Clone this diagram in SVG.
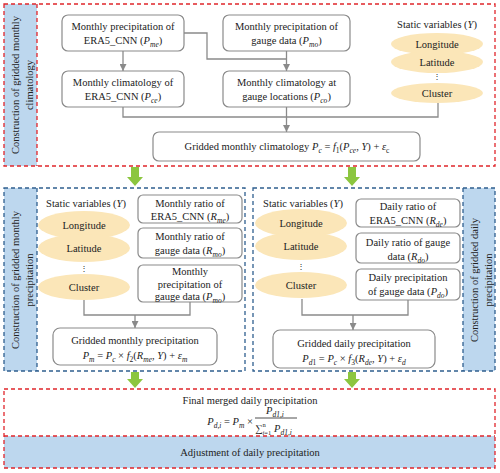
<svg xmlns="http://www.w3.org/2000/svg" width="500" height="473" viewBox="0 0 500 473">
<defs>
<style>
text{font-family:"Liberation Serif","Times New Roman",serif;font-size:10.5px;fill:#222;}
.c{text-anchor:middle;}
.i{font-style:italic;}
.s{font-size:7.5px;}
.box{fill:#fff;stroke:#8a8a8a;stroke-width:1.2;}
.ell{fill:#fbe6b8;}
.bar{fill:#bdd7ee;}
.red{fill:none;stroke:#e0262b;stroke-width:1.3;stroke-dasharray:4 3;}
.blue{fill:none;stroke:#2f5f8f;stroke-width:1.3;stroke-dasharray:4 3;}
.ln{fill:none;stroke:#8a8a8a;stroke-width:1.3;}
.ga{fill:#8cc63f;}
</style>
<marker id="ah" viewBox="0 0 10 10" refX="10" refY="5" markerWidth="7" markerHeight="7" markerUnits="userSpaceOnUse" orient="auto">
<path d="M0,0 L10,5 L0,10 z" fill="#8a8a8a"/>
</marker>
</defs>

<!-- Section 1 frame -->
<g id="sec1">
<rect class="bar" x="4" y="4" width="33" height="162"/>
<rect class="red" x="4" y="4" width="491" height="162"/>
<line class="red" x1="37" y1="4" x2="37" y2="166"/>
<text transform="translate(19,85) rotate(-90)" class="c">Construction of gridded monthly</text>
<text transform="translate(33,85) rotate(-90)" class="c">climatology</text>
</g>

<!-- Section 2 left frame -->
<g id="sec2">
<rect class="bar" x="4" y="188" width="33" height="183"/>
<rect class="blue" x="4" y="188" width="241" height="183"/>
<line class="blue" x1="37" y1="188" x2="37" y2="371"/>
<text transform="translate(19,280) rotate(-90)" class="c">Construction of gridded monthly</text>
<text transform="translate(33,280) rotate(-90)" class="c">precipitation</text>
</g>

<!-- Section 3 right frame -->
<g id="sec3">
<rect class="bar" x="463" y="188" width="32" height="183"/>
<rect class="blue" x="253" y="188" width="242" height="183"/>
<line class="blue" x1="463" y1="188" x2="463" y2="371"/>
<text transform="translate(478,280) rotate(-90)" class="c">Construction of gridded daily</text>
<text transform="translate(492,280) rotate(-90)" class="c">precipitation</text>
</g>

<!-- Section 4 bottom frame -->
<g id="sec4">
<rect class="bar" x="4" y="436" width="491" height="32"/>
<rect class="red" x="4" y="389" width="491" height="79"/>
<line class="red" x1="4" y1="436" x2="495" y2="436"/>
<text class="c" x="250" y="456">Adjustment of daily precipitation</text>
</g>

<!-- Connectors -->
<g id="connectors">
<path class="ln" d="M123,51 V71" marker-end="url(#ah)"/>
<path class="ln" d="M184,33 H207 V59 H286.5"/>
<path class="ln" d="M286.5,51 V71" marker-end="url(#ah)"/>
<path class="ln" d="M123,107 V117 H438 V103"/>
<path class="ln" d="M286.5,107 V132" marker-end="url(#ah)"/>
<path class="ln" d="M84,300 V315 H190 V302"/>
<path class="ln" d="M135,315 V328" marker-end="url(#ah)"/>
<path class="ln" d="M302,299 V315 H408 V300"/>
<path class="ln" d="M353,315 V330" marker-end="url(#ah)"/>
<polygon class="ga" points="131,167 139,167 139,177 143,177 135,186 127,177 131,177"/>
<polygon class="ga" points="348,167 356,167 356,177 360,177 352,186 344,177 348,177"/>
<polygon class="ga" points="131,372 139,372 139,379 143,379 135,388 127,379 131,379"/>
<polygon class="ga" points="348,372 356,372 356,379 360,379 352,388 344,379 348,379"/>
</g>

<!-- Section 1 nodes -->
<g id="n_pme">
<rect class="box" x="62" y="15" width="122" height="36" rx="6"/>
<text class="c" x="123" y="30">Monthly precipitation of</text>
<text class="c" x="123" y="44">ERA5_CNN (<tspan class="i">P</tspan><tspan class="i s" baseline-shift="-2.5">me</tspan>)</text>
</g>
<g id="n_pmo">
<rect class="box" x="223" y="15" width="127" height="36" rx="6"/>
<text class="c" x="286.5" y="30">Monthly precipitation of</text>
<text class="c" x="286.5" y="44">gauge data (<tspan class="i">P</tspan><tspan class="i s" baseline-shift="-2.5">mo</tspan>)</text>
</g>
<g id="n_pce">
<rect class="box" x="62" y="71" width="122" height="36" rx="6"/>
<text class="c" x="123" y="86">Monthly climatology of</text>
<text class="c" x="123" y="100">ERA5_CNN (<tspan class="i">P</tspan><tspan class="i s" baseline-shift="-2.5">ce</tspan>)</text>
</g>
<g id="n_pco">
<rect class="box" x="223" y="71" width="127" height="36" rx="6"/>
<text class="c" x="286.5" y="86">Monthly climatology at</text>
<text class="c" x="286.5" y="100">gauge locations (<tspan class="i">P</tspan><tspan class="i s" baseline-shift="-2.5">co</tspan>)</text>
</g>
<g id="n_static1">
<text class="c" x="437" y="28">Static variables (<tspan class="i">Y</tspan>)</text>
<ellipse class="ell" cx="437" cy="44" rx="46" ry="11"/>
<ellipse class="ell" cx="437" cy="62" rx="46" ry="11"/>
<ellipse class="ell" cx="437" cy="93" rx="46" ry="10"/>
<text class="c" x="437" y="48">Longitude</text>
<text class="c" x="437" y="66">Latitude</text>
<text class="c" x="437" y="79" style="font-size:8px">⋮</text>
<text class="c" x="437" y="97">Cluster</text>
</g>
<g id="n_pc">
<rect class="box" x="153" y="132" width="267" height="29" rx="6"/>
<text class="c" x="287" y="150">Gridded monthly climatology <tspan class="i">P</tspan><tspan class="i s" baseline-shift="-2.5">c</tspan> = <tspan class="i">f</tspan><tspan class="s" baseline-shift="-2.5">1</tspan>(<tspan class="i">P</tspan><tspan class="i s" baseline-shift="-2.5">ce</tspan>, <tspan class="i">Y</tspan>) + <tspan class="i">ε</tspan><tspan class="s" baseline-shift="-2.5">c</tspan></text>
</g>

<!-- Section 2 nodes -->
<g id="n_static2">
<text class="c" x="86" y="207">Static variables (<tspan class="i">Y</tspan>)</text>
<ellipse class="ell" cx="84" cy="225" rx="46" ry="14"/>
<ellipse class="ell" cx="84" cy="248" rx="46" ry="14"/>
<ellipse class="ell" cx="84" cy="287" rx="46" ry="13"/>
<text class="c" x="84" y="229">Longitude</text>
<text class="c" x="84" y="252">Latitude</text>
<text class="c" x="84" y="271" style="font-size:8px">⋮</text>
<text class="c" x="84" y="291">Cluster</text>
</g>
<g id="n_rme">
<rect class="box" x="138" y="195" width="104" height="28" rx="5"/>
<text class="c" x="190" y="207">Monthly ratio of</text>
<text class="c" x="190" y="220">ERA5_CNN (<tspan class="i">R</tspan><tspan class="i s" baseline-shift="-2.5">me</tspan>)</text>
</g>
<g id="n_rmo">
<rect class="box" x="138" y="228" width="104" height="30" rx="5"/>
<text class="c" x="190" y="240">Monthly ratio of</text>
<text class="c" x="190" y="254">gauge data (<tspan class="i">R</tspan><tspan class="i s" baseline-shift="-2.5">mo</tspan>)</text>
</g>
<g id="n_pmo2">
<rect class="box" x="138" y="265" width="104" height="37" rx="5"/>
<text class="c" x="190" y="275">Monthly</text>
<text class="c" x="190" y="288">precipitation of</text>
<text class="c" x="190" y="300">gauge data (<tspan class="i">P</tspan><tspan class="i s" baseline-shift="-2.5">mo</tspan>)</text>
</g>
<g id="n_pm">
<rect class="box" x="53" y="328" width="164" height="37" rx="7"/>
<text class="c" x="135" y="344">Gridded monthly precipitation</text>
<text class="c" x="135" y="359"><tspan class="i">P</tspan><tspan class="i s" baseline-shift="-2.5">m</tspan> = <tspan class="i">P</tspan><tspan class="i s" baseline-shift="-2.5">c</tspan> × <tspan class="i">f</tspan><tspan class="s" baseline-shift="-2.5">2</tspan>(<tspan class="i">R</tspan><tspan class="i s" baseline-shift="-2.5">me</tspan>, <tspan class="i">Y</tspan>) + <tspan class="i">ε</tspan><tspan class="i s" baseline-shift="-2.5">m</tspan></text>
</g>

<!-- Section 3 nodes -->
<g id="n_static3">
<text class="c" x="303" y="207">Static variables (<tspan class="i">Y</tspan>)</text>
<ellipse class="ell" cx="301" cy="223" rx="46" ry="14"/>
<ellipse class="ell" cx="301" cy="246" rx="46" ry="14"/>
<ellipse class="ell" cx="301" cy="285" rx="46" ry="13"/>
<text class="c" x="301" y="227">Longitude</text>
<text class="c" x="301" y="250">Latitude</text>
<text class="c" x="301" y="269" style="font-size:8px">⋮</text>
<text class="c" x="301" y="289">Cluster</text>
</g>
<g id="n_rde">
<rect class="box" x="356" y="199" width="104" height="28" rx="5"/>
<text class="c" x="408" y="210">Daily ratio of</text>
<text class="c" x="408" y="224">ERA5_CNN (<tspan class="i">R</tspan><tspan class="i s" baseline-shift="-2.5">de</tspan>)</text>
</g>
<g id="n_rdo">
<rect class="box" x="356" y="233" width="104" height="30" rx="5"/>
<text class="c" x="408" y="246">Daily ratio of gauge</text>
<text class="c" x="408" y="260">data (<tspan class="i">R</tspan><tspan class="i s" baseline-shift="-2.5">do</tspan>)</text>
</g>
<g id="n_pdo">
<rect class="box" x="356" y="269" width="104" height="31" rx="5"/>
<text class="c" x="408" y="281">Daily precipitation</text>
<text class="c" x="408" y="295">of gauge data (<tspan class="i">P</tspan><tspan class="i s" baseline-shift="-2.5">do</tspan>)</text>
</g>
<g id="n_pd1">
<rect class="box" x="273" y="330" width="162" height="38" rx="7"/>
<text class="c" x="354" y="347">Gridded daily precipitation</text>
<text class="c" x="354" y="362"><tspan class="i">P</tspan><tspan class="i s" baseline-shift="-2.5">d</tspan><tspan class="s" baseline-shift="-2.5">1</tspan> = <tspan class="i">P</tspan><tspan class="i s" baseline-shift="-2.5">c</tspan> × <tspan class="i">f</tspan><tspan class="s" baseline-shift="-2.5">3</tspan>(<tspan class="i">R</tspan><tspan class="i s" baseline-shift="-2.5">de</tspan>, <tspan class="i">Y</tspan>) + <tspan class="i">ε</tspan><tspan class="i s" baseline-shift="-2.5">d</tspan></text>
</g>

<!-- Section 4 node -->
<g id="n_final">
<text class="c" x="250" y="404">Final merged daily precipitation</text>
<text x="253" y="425" style="text-anchor:end"><tspan class="i">P</tspan><tspan class="i s" baseline-shift="-2.5">d,i</tspan> = <tspan class="i">P</tspan><tspan class="i s" baseline-shift="-2.5">m</tspan> ×</text>
<text class="c" x="275" y="414"><tspan class="i">P</tspan><tspan class="i s" baseline-shift="-2.5">d1,i</tspan></text>
<line x1="255" y1="418" x2="297" y2="418" stroke="#222" stroke-width="0.8"/>
<text x="255" y="432">∑</text>
<text x="262.5" y="426.5" class="s" style="font-size:6.5px">n</text>
<text x="262.5" y="434.5" class="i s" style="font-size:6.5px">i<tspan style="font-style:normal">=1</tspan></text>
<text x="274" y="432"><tspan class="i">P</tspan><tspan class="i s" baseline-shift="-2.5">d1,i</tspan></text>
</g>
</svg>
